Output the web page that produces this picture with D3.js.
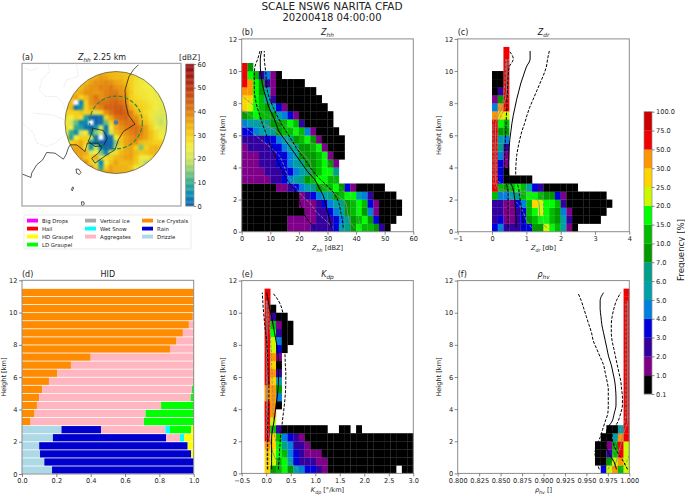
<!DOCTYPE html>
<html lang="en">
  <head>
    <meta charset="UTF-8" />
    <title>SCALE NSW6 NARITA CFAD</title>
    <style>
      body { margin: 0; background: #fff; }
      text { font-family: "DejaVu Sans", sans-serif; fill: #222; }
      .domain { display: none; }
      .tick line { stroke: #555; stroke-width: 0.7; }
      .tick text { font-size: 6.6px; fill: #222; }
    </style>
  </head>
  <body>
    <svg width="685" height="495"></svg>
    <script src="https://cdn.jsdelivr.net/npm/d3@7"></script>
    <script>
      // frequency levels of the CFAD colour bar
      const freqLevels = [0.1, 1, 2, 3, 4, 5, 6, 7, 10, 15, 20, 25, 30, 50, 75, 100];
      const freqColors = ["#000000", "#7f0088", "#3300a0", "#0000dd", "#0080dd", "#00a0aa", "#00a088",
        "#009900", "#00bb00", "#00ff00", "#ccf800", "#ffd500", "#ff9500", "#f00000", "#cc0000"];

      // reflectivity colour bar of the map
      const dbzStops = [0, 5, 10, 15, 20, 25, 30, 35, 40, 45, 50, 55, 60];
      const dbzColors = ["#0f5fb0", "#0a8cb0", "#35ab8c", "#86cc78", "#d0e45c", "#f2ec3c", "#f4d018",
        "#eeaa10", "#e08010", "#d05a10", "#bd3410", "#a81a10", "#8e0a10"];

      // CFAD rows, bottom (0-0.5 km) to top, each row: first bin, then frequency per bin
      const zhhCells = [
        [0, .5,.5,.5,.5,.5,.5,.5,.5, 1.5,1.5,1.5,1.5, 2.5,2.5,2.5,2.5, 3.5,5.5,6.5,8,17,12,12,8,2.5,.5],
        [0, .5,.5,.5,.5,.5,.5,.5,.5, 1.5,1.5,1.5,1.5,1.5, 2.5,2.5,2.5, 3.5,4.5,6.5,8,12,17,8,3.5,.5,.5,.5],
        [0, .5,.5,.5,.5,.5,.5,.5,.5,.5,.5,.5, 1.5,1.5, 2.5,2.5, 3.5,4.5,5.5,8,12,17,8,4.5,1.5,.5,.5,.5,.5],
        [0, .5,.5,.5,.5,.5,.5,.5,.5,.5,.5, 1.5,1.5,1.5, 2.5,3.5,4.5,5.5,6.5,8,12,17,12,3.5,1.5,.5,.5,.5,.5],
        [0, .5,.5,.5,.5,.5,.5,.5,.5,.5,.5, 1.5,2.5,3.5,4.5,5.5,6.5,8,12,17,17,5.5,4.5,2.5,.5,.5,.5,.5],
        [0, .5,.5,.5,.5,.5,.5, 1.5,1.5,2.5,3.5,4.5,5.5,6.5,8,12,12,17,8,3.5,1.5,.5,.5,.5,.5,.5],
        [0, 1.5,1.5,1.5,1.5,1.5, 2.5,2.5,3.5,4.5,5.5,6.5,8,12,17,17,12,12],
        [0, 1.5,1.5,1.5,1.5, 2.5,2.5,2.5,3.5,3.5,4.5,5.5,6.5,8,12,17,17,6.5],
        [0, 1.5,1.5,1.5, 2.5,2.5,2.5,3.5,3.5,4.5,5.5,6.5,8,8,12,17,8,1.5],
        [0, 1.5,1.5,1.5, 2.5,2.5,2.5,3.5,3.5,4.5,5.5,8,8,8,12,17,1.5,.5,.5],
        [0, 1.5,2.5,2.5,2.5,2.5,3.5,3.5,4.5,5.5,6.5,8,8,12,17,1.5,.5,.5,.5],
        [0, 2.5,2.5,2.5,2.5,3.5,3.5,4.5,5.5,6.5,8,12,17,8,1.5,.5,.5,.5,.5],
        [0, 3.5,3.5,4.5,5.5,5.5,6.5,8,12,12,17,12,4.5,1.5,.5,.5,.5,.5],
        [0, 4.5,5.5,5.5,6.5,6.5,8,8,12,17,12,2.5,.5,.5,.5,.5,.5],
        [0, 8,12,17,12,12,8,5.5,4.5,3.5,1.5,.5,.5,.5,.5,.5,.5],
        [0, 27,22,17,12,8,5.5,3.5,1.5,.5,.5,.5,.5,.5,.5,.5],
        [0, 27,27,17,12,5.5,2.5,.5,.5,.5,.5,.5,.5,.5,.5],
        [0, 40,40,17,8,5.5,1.5,.5,.5,.5,.5,.5,.5,.5],
        [0, 60,40,17,8,2.5,1.5,.5,.5,.5,.5,.5],
        [0, 60,17,12,2.5,4.5,1.5,.5],
        [0, 60,8],
      ];
      const zdrCells = [
        [6, 3.5,4.5,2.5,2.5,2.5,3.5,3.5,8,8,22,17,12,5.5,1.5,.5],
        [6, 2.5,3.5,1.5,1.5,2.5,3.5,8,12,17,17,12,8,5.5,2.5,.5,.5,.5,.5,.5],
        [6, 2.5,2.5,1.5,1.5,2.5,3.5,12,17,22,17,12,8,4.5,1.5,.5,.5,.5,.5,.5,.5],
        [6, 2.5,2.5,1.5,1.5,3.5,4.5,12,27,22,17,17,12,2.5,.5,.5,.5,.5,.5,.5,.5,.5],
        [6, 12,4.5,4.5,5.5,6.5,12,17,17,12,8,8,3.5,1.5,.5,.5,.5,.5,.5,.5,.5],
        [6, 60,12,8,12,17,12,5.5,3.5,2.5,.5,.5,.5,.5,.5,.5],
        [6, 60,3.5,.5,.5,.5,.5,.5],
        [6, 60,3.5,.5],
        [6, 60,3.5,1.5],
        [6, 60,4.5,1.5],
        [6, 60,6.5,2.5],
        [6, 60,5.5,4.5],
        [6, 60,8,8],
        [6, 60,17,12],
        [6, 40,27,22],
        [6, 4.5,40,60],
        [6, 1.5,8,60],
        [6, .5,2.5,60],
        [6, .5,.5,60],
        [6, .5,.5,60],
        [8, 60],
        [8, 60],
        [8, 60],
      ];
      const kdpCells = [
        [4, 27,8,12,17,8,5.5,4.5,3.5,3.5,2.5,1.5,.5,.5,.5,.5,.5,.5,.5,.5,.5,.5,.5,.5,null,.5,.5],
        [4, 27,22,12,17,5.5,3.5,2.5,2.5,2.5,1.5,1.5,.5,.5,.5,.5,.5,.5,.5,.5,.5,.5,.5,.5,.5,.5,.5],
        [4, 27,22,17,12,4.5,3.5,2.5,1.5,1.5,1.5,.5,.5,.5,.5,.5,.5,.5,.5,.5,.5,.5,.5,.5,.5,.5,.5],
        [4, 40,27,17,6.5,4.5,2.5,2.5,1.5,.5,.5,.5,.5,.5,.5,.5,.5,.5,.5,.5,.5,.5,.5,.5,.5,.5,.5],
        [4, 60,27,12,4.5,3.5,2.5,1.5,.5,.5,.5,.5,.5,.5,.5,.5,.5,.5,.5,.5,.5,.5,.5,.5,.5,.5,.5],
        [4, 60,12,2.5,.5,.5,.5,.5,.5,.5,.5,.5,null,null,.5,.5,null,.5],
        [4, 60,22],
        [4, 60,40],
        [4, 60,40,.5],
        [4, 40,40,4.5],
        [4, 40,40,8],
        [4, 60,27,5.5],
        [4, 60,40,2.5],
        [4, 60,27,.5],
        [4, 60,40,1.5],
        [4, 60,22,3.5,.5],
        [4, 60,22,4.5,.5,.5],
        [4, 60,17,2.5,.5,.5],
        [4, 60,12,1.5,.5,.5],
        [4, 60,2.5,.5,.5],
        [4, 60,.5],
        [4, 60],
        [4, 60],
      ];
      const rhoCells = [
        [25, 3.5,22,40,12,22],
        [24, .5,.5,8,22,40,22],
        [24, .5,.5,2.5,12,60,22],
        [24, .5,.5,1.5,8,60,22],
        [25, .5,.5,5.5,40,60],
        [26, .5,.5,5.5,60],
        [29, 60],[29, 60],[29, 60],[29, 60],[29, 60],[29, 60],[29, 60],[29, 60],[29, 60],[29, 60],
        [29, 60],[29, 60],[29, 60],[29, 60],[29, 60],[29, 60],[29, 60],
      ];

      // profile curves, value at 0.25, 0.75, ... km
      const zhhMedian = [31.5,30.7,30,29.3,28.5,27,25.5,23,21,19,17,15,13,12,10.8,9.5,8.7,7.8,7.2,6.8,6.5,6.5,7];
      const zhhLow = [25.6,23,21.5,20.5,19.5,17.8,15.8,14.3,13,11.7,10.3,9.2,8.2,7.2,6.3,5.4,4.8,4.4,4.4,4.4,4.6,5.6,6.4];
      const zhhHigh = [35.5,35.2,34.6,34,32.8,30.5,27.5,25,23,21,19,17.3,15.5,13.8,12.3,11,9.8,9,8.6,8.5,8.2,7.9,7.9];
      const zhhGray = [39.5,37.5,37,36.5,33.5,29,25,24.5,24,22,19,15.5,12,7.5,3,-2];
      const zhhGrayLow = [32,29,26,24,21,19,17,15.5,14.5,13,10,6.5,3,-1];
      const zhhGrayHigh = [41.5,41,40.5,40,37,34.5,32.5,31.5,30.5,29,26.5,23,19,14,9,5,1.5,-2];

      const zdrMedian = [.7,.7,.69,.67,.65,.6,.5,.48,.48,.49,.5,.52,.55,.58,.62,.67,.72,.78,.84,.92,1,1.11,1.11];
      const zdrLow = [.47,.47,.47,.47,.47,.45,.38,.36,.36,.37,.38,.39,.4,.41,.42,.43,.44,.45,.46,.47,.5,.62,.5];
      const zdrHigh = [.93,.9,.87,.84,.8,.77,.7,.69,.7,.72,.76,.81,.87,.95,1.02,1.1,1.2,1.3,1.4,1.5,1.58,1.62,1.67];
      const zdrGray = [1.6,1.4,1.38,1.37,1.1,.16,.1,.09,.09,.09,.09,.1,.1,.11,.18,.3,.39,.42,.43,.43,.43,.43];
      const zdrGrayLow = [1.15,1,.9,.75,.5,.09,.04,.03,.03,.03,.03,.03,.03,.03,.1,.22,.33,.35,.37,.38,.39,.4];
      const zdrGrayHigh = [1.85,1.55,1.5,1.5,1.45,.6,.14,.14,.14,.14,.15,.16,.17,.18,.27,.4,.46,.46,.46,.47,.47,.48];

      const kdpMedian = [.11,.11,.11,.11,.11,.13,.16,.18,.2,.225,.24,.25,.25,.25,.245,.23,.2,.17,.14,.11,.07,.04,.01];
      const kdpLow = [.03,.03,.03,.03,.03,.03,.035,.04,.05,.055,.055,.05,.04,.035,.03,.02,.01,-.01,-.03,-.045,-.06,-.07,-.08];
      const kdpHigh = [.25,.26,.27,.28,.29,.31,.33,.35,.37,.385,.395,.4,.4,.39,.385,.38,.38,.37,.365,.35,.32,.25,.13];
      const kdpGray = [.35,.22,.14,.1,.06,.03,.03,.02,.02,.02,.02,.02,.02,.02,.02,.02,.02,.02,.02,.02,.01,.01];
      const kdpGrayLow = [.02,.01,.01,.01,.01,.01,.01,.01,.01,.01,.01,.01,.01,.01,.01,0,0,0,0,0,0,0];
      const kdpGrayHigh = [.65,.45,.3,.22,.18,.15,.15,.14,.14,.14,.13,.12,.12,.11,.11,.1,.09,.08,.06,.05,.04,.03];

      const rhoMedian = [.985,.982,.976,.973,.973,.974,.98,.9825,.9845,.9845,.984,.983,.981,.979,.976,.974,.972,.97,.968,.967,.966,.966,.97];
      const rhoLow = [.965,.962,.96,.962,.966,.969,.972,.975,.9755,.9755,.9755,.974,.972,.97,.966,.962,.958,.956,.953,.95,.947,.944,.94];
      const rhoHigh = [.998,.993,.987,.982,.98,.982,.987,.99,.992,.992,.991,.99,.988,.986,.984,.982,.98,.979,.979,.98,.982,.985,.99];
      const rhoGray = [.98,.985,.987,.99,.992,.995,.998,.998,.998,.998,.998,.998,.998,.998,.998,.998,.998,.998,.998,.998,.998,.998];
      const rhoGrayLow = [.975,.98,.982,.984,.987,.99,.995,.996,.996,.996,.996,.996,.996,.996,.996,.996,.996,.996,.996,.996,.996,.996];
      const rhoGrayHigh = [.99,.997,1,1,1,1,1,1,1,1,1,1,1,1,1,1,1,1,1,1,1,1];

      // HID shares per 0.5 km layer, bottom to top
      const hidNames = ["Big Drops", "Hail", "HD Graupel", "LD Graupel", "Vertical Ice", "Wet Snow", "Aggregates", "Ice Crystals", "Rain", "Drizzle"];
      const hidColors = ["#ff00ff", "#ff0000", "#ffff00", "#00ff00", "#a9a9a9", "#00ffff", "#ffb6c1", "#ff8c00", "#0000cd", "#add8e6"];
      const hidDrizzle = [.175,.13,.105,.1,.18,.23,0,0,0,0,0,0,0,0,0,0,0,0,0,0,0,0,0];
      const hidRain = [.825,.87,.88,.865,.66,.23,0,0,0,0,0,0,0,0,0,0,0,0,0,0,0,0,0];
      const hidCrystals = [0,0,0,0,0,0,.05,.073,.087,.1,.118,.157,.205,.285,.4,.862,.9,.937,.972,.995,1,1,1];
      const hidAggregates = [0,0,0,0,.08,.375,.66,.647,.723,.883,.872,.841,.793,.715,.6,.138,.1,.063,.028,.005,0,0,0];
      const hidWetSnow = [0,0,0,0,.025,.027,0,0,0,0,0,0,0,0,0,0,0,0,0,0,0,0,0];
      const hidLdGraupel = [0,0,0,0,0,.123,.29,.28,.19,.017,.01,.002,.002,0,0,0,0,0,0,0,0,0,0];
      const hidHdGraupel = [0,0,.015,.035,.055,.015,0,0,0,0,0,0,0,0,0,0,0,0,0,0,0,0,0];

      // Zhh at 2.25 km on a 15 km grid round the radar, north to south (null = no echo)
      const mapGridKm = [
        [33,33,33,33,33,33,34,34,34,33,33,32,32,30,28,27,26,25,25,25,25],
        [32,32,32,32,32,33,35,37,36,34,33,33,32,30,28,26,25,25,25,25,25],
        [32,32,32,32,33,36,38,38,39,38,36,35,33,30,27,26,25,24,24,24,24],
        [32,32,32,33,36,38,38,40,39,41,38,37,35,30,27,26,25,25,24,23,23],
        [33,33,33,35,38,38,37,38,40,41,41,38,36,31,27,26,26,25,24,23,23],
        [33,33,36,30,33,38,42,38,40,42,42,40,38,30,28,27,26,25,24,24,23],
        [33,33,null,4,30,38,40,42,42,43,44,42,40,32,30,29,28,26,25,24,23],
        [33,33,2,6,30,36,38,40,44,44,45,45,42,35,31,30,29,27,25,23,23],
        [30,30,30,32,30,32,20,30,38,42,45,46,44,40,33,31,28,26,23,22,22],
        [28,25,30,28,8,1,0,2,30,36,42,43,44,40,38,33,30,26,22,20,22],
        [26,20,13,4,4,null,0,2,13,30,38,40,42,42,40,35,32,28,22,19,22],
        [28,25,10,8,2,0,6,20,2,25,35,38,40,42,42,40,36,30,24,22,22],
        [25,10,5,20,25,3,15,20,3,20,33,36,38,40,42,40,36,32,28,24,24],
        [30,8,25,30,30,20,2,null,1,2,25,32,36,38,40,38,36,32,28,25,25],
        [32,30,32,35,30,8,2,0,0,1,15,32,36,38,38,33,32,31,30,30,30],
        [32,34,36,36,25,6,20,4,0,1,18,30,35,36,30,14,30,33,34,32,32],
        [32,34,36,36,35,20,25,14,4,20,28,33,35,36,33,31,32,33,33,32,32],
        [34,6,30,36,32,30,35,20,28,30,33,34,36,36,32,26,24,28,32,32,32],
        [36,36,36,36,38,30,20,4,25,32,36,33,33,34,31,22,18,26,30,32,32],
        [36,36,36,36,38,38,30,8,30,36,34,34,34,32,24,28,30,32,32,32,32],
        [36,36,36,36,36,36,36,36,36,36,34,34,34,34,34,32,32,32,32,32,32],
      ];
      // map outlines in km east / north of the radar
      const coastMain = [[67,173],[52,158],[39,138],[27,98],[29,58],[37,23],[57,-5],[22,-27],[7,-52],[-3,-82],[-28,-97],[-63,-122],[-73,-107],[-53,-92],[-43,-77],[-53,-62],[-86,-62],[-93,-87],[-118,-67],[-138,-67],[-143,-77],[-150,-97],[-158,-110],[-183,-92],[-208,-90],[-220,-112],[-238,-127],[-253,-152],[-255,-165],[-283,-154]];
      const coastBay = [[-70,-17],[-38,-24],[-26,-47],[-38,-70],[-63,-72],[-83,-57],[-73,-32],[-70,-17]];
      const coastIslands = [
        [[-120,-140],[-112,-140],[-105,-150],[-110,-156],[-118,-152],[-120,-140]],
        [[-130,-193],[-127,-196],[-131,-205],[-134,-202],[-130,-193]],
        [[-104,-238],[-97,-238],[-95,-245],[-102,-250],[-104,-238]],
      ];
      const prefLines = [
        [[-273,163],[-258,156],[-243,160],[-233,168]],
        [[-203,173],[-200,153],[-223,128],[-230,98],[-213,78],[-178,78],[-158,58],[-153,38]],
        [[-248,28],[-193,23],[-153,8]],
        [[-278,-4],[-248,-32],[-238,-62],[-208,-72],[-183,-62],[-148,-32]],
        [[-118,173],[-113,138],[-148,128],[-158,103]],
      ];

      const svg = d3.select("svg");
      const freqColor = d3.scaleThreshold().domain(freqLevels.slice(1, -1)).range(freqColors);
      const dbzColor = d3.scaleLinear().domain(dbzStops).range(dbzColors);
      const heightTicks = d3.range(0, 13, 2);

      // text with a subscript, parts are [text, italic, sub]
      function label(parent, x, y, parts, size, anchor, rotate) {
        const t = parent.append("text").attr("font-size", size).attr("text-anchor", anchor || "middle");
        t.attr("transform", "translate(" + x + "," + y + ")" + (rotate ? " rotate(-90)" : ""));
        parts.forEach((p, i) => {
          const s = t.append("tspan").text(p[0]);
          if (p[1]) s.attr("font-style", "italic");
          if (p[2]) s.attr("font-size", size * 0.72).attr("dy", size * 0.25);
          else if (i > 0) s.attr("dy", -size * 0.25);
        });
        return t;
      }

      function frame(g, w, h, color, width) {
        g.append("rect").attr("width", w).attr("height", h).attr("fill", "none")
          .attr("stroke", color || "#8c8c8c").attr("stroke-width", width || 1);
      }

      function axes(g, x, y, w, h, xTicks, fmt) {
        g.append("g").attr("transform", "translate(0," + h + ")")
          .call(d3.axisBottom(x).tickValues(xTicks).tickFormat(fmt).tickSize(3).tickPadding(1.8));
        g.append("g").call(d3.axisLeft(y).tickValues(heightTicks).tickSize(3).tickPadding(1.5));
      }

      function cfadPanel(o) {
        const w = 171.6, h = 192.8;
        const g = svg.append("g").attr("transform", "translate(" + o.left + "," + o.top + ")");
        const x = d3.scaleLinear().domain(o.domain).range([0, w]);
        const y = d3.scaleLinear().domain([0, 12]).range([h, 0]);
        const binW = (o.domain[1] - o.domain[0]) / 30;
        const clipId = "clip" + o.tag;
        g.append("clipPath").attr("id", clipId).append("rect").attr("width", w).attr("height", h);

        o.cells.forEach((row, r) => {
          row.slice(1).forEach((v, i) => {
            if (v === null) return;
            const x0 = o.domain[0] + (row[0] + i) * binW;
            g.append("rect")
              .attr("x", x(x0)).attr("width", x(x0 + binW) - x(x0) + 0.2)
              .attr("y", y((r + 1) * 0.5)).attr("height", y(r * 0.5) - y((r + 1) * 0.5) + 0.2)
              .attr("fill", freqColor(v));
          });
        });

        const line = d3.line().x((d) => x(d)).y((d, i) => y(0.25 + i * 0.5)).curve(d3.curveMonotoneY);
        const curves = g.append("g").attr("clip-path", "url(#" + clipId + ")").attr("fill", "none");
        curves.append("path").attr("d", line(o.gray)).attr("stroke", "#8a8a8a").attr("stroke-width", 0.9);
        curves.append("path").attr("d", line(o.grayLow)).attr("stroke", "#8a8a8a").attr("stroke-width", 0.9).attr("stroke-dasharray", "3 1.5");
        curves.append("path").attr("d", line(o.grayHigh)).attr("stroke", "#8a8a8a").attr("stroke-width", 0.9).attr("stroke-dasharray", "3 1.5");
        curves.append("path").attr("d", line(o.median)).attr("stroke", "#000").attr("stroke-width", 1);
        curves.append("path").attr("d", line(o.low)).attr("stroke", "#000").attr("stroke-width", 1).attr("stroke-dasharray", "3 1.5");
        curves.append("path").attr("d", line(o.high)).attr("stroke", "#000").attr("stroke-width", 1).attr("stroke-dasharray", "3 1.5");

        frame(g, w, h);
        axes(g, x, y, w, h, o.ticks, o.fmt);
        label(g, 0, -3.5, [["(" + o.tag + ")"]], 8, "start");
        label(g, w / 2, -3.5, o.title, 8);
        label(g, w / 2, h + 18.5, o.xlabel, 6.6);
        label(g, -17, h / 2, [["Height [km]"]], 6.6, "middle", true);
      }

      const subLabel = (sym, sub, rest) => {
        const parts = [[sym, true], [sub, true, true]];
        if (rest) parts.push([rest]);
        return parts;
      };

      cfadPanel({ tag: "b", left: 241.7, top: 38.9, domain: [0, 60], ticks: d3.range(0, 61, 10), fmt: d3.format("d"),
        cells: zhhCells, median: zhhMedian, low: zhhLow, high: zhhHigh, gray: zhhGray, grayLow: zhhGrayLow, grayHigh: zhhGrayHigh,
        title: subLabel("Z", "hh"), xlabel: subLabel("Z", "hh", " [dBZ]") });
      cfadPanel({ tag: "c", left: 457.7, top: 38.9, domain: [-1, 4], ticks: d3.range(-1, 5), fmt: (d) => (d < 0 ? "\u2212" + -d : d),
        cells: zdrCells, median: zdrMedian, low: zdrLow, high: zdrHigh, gray: zdrGray, grayLow: zdrGrayLow, grayHigh: zdrGrayHigh,
        title: subLabel("Z", "dr"), xlabel: subLabel("Z", "dr", " [db]") });
      cfadPanel({ tag: "e", left: 241.7, top: 280.6, domain: [-0.5, 3], ticks: d3.range(-0.5, 3.1, 0.5), fmt: (d) => (d < 0 ? "\u2212" + d3.format(".1f")(-d) : d3.format(".1f")(d)),
        cells: kdpCells, median: kdpMedian, low: kdpLow, high: kdpHigh, gray: kdpGray, grayLow: kdpGrayLow, grayHigh: kdpGrayHigh,
        title: subLabel("K", "dp"), xlabel: subLabel("K", "dp", " [\u00b0/km]") });
      cfadPanel({ tag: "f", left: 457.7, top: 280.6, domain: [0.8, 1], ticks: d3.range(0, 9).map((i) => 0.8 + i * 0.025), fmt: d3.format(".3f"),
        cells: rhoCells, median: rhoMedian, low: rhoLow, high: rhoHigh, gray: rhoGray, grayLow: rhoGrayLow, grayHigh: rhoGrayHigh,
        title: subLabel("\u03c1", "hv"), xlabel: subLabel("\u03c1", "hv", " []") });

      // HID stacked bars
      (function () {
        const w = 171.7, h = 193.7;
        const g = svg.append("g").attr("transform", "translate(22,280.3)");
        const x = d3.scaleLinear().domain([0, 1]).range([0, w]);
        const y = d3.scaleLinear().domain([0, 12]).range([h, 0]);
        const stackOrder = [
          [hidDrizzle, "Drizzle"], [hidRain, "Rain"], [hidCrystals, "Ice Crystals"], [hidAggregates, "Aggregates"],
          [hidWetSnow, "Wet Snow"], [hidLdGraupel, "LD Graupel"], [hidHdGraupel, "HD Graupel"],
        ];
        hidRain.forEach((_, r) => {
          let sum = 0;
          stackOrder.forEach(([vals, name]) => {
            const v = vals[r];
            if (v <= 0) return;
            g.append("rect")
              .attr("x", x(sum)).attr("width", x(sum + v) - x(sum))
              .attr("y", y(r * 0.5 + 0.47)).attr("height", y(r * 0.5 + 0.02) - y(r * 0.5 + 0.47))
              .attr("fill", hidColors[hidNames.indexOf(name)]);
            sum += v;
          });
        });
        frame(g, w, h);
        axes(g, x, y, w, h, d3.range(0, 1.01, 0.2), d3.format(".1f"));
        label(g, 0, -3.5, [["(d)"]], 8, "start");
        label(g, w / 2, -3.5, [["HID"]], 8);
        label(g, -16, h / 2, [["Height [km]"]], 6.6, "middle", true);
      })();

      // radar map
      (function () {
        const g = svg.append("g");
        const left = 22, top = 63.4, right = 181, bottom = 206;
        const mapX = d3.scaleLinear().domain([-153, 153]).range([65, 167]);
        const mapY = d3.scaleLinear().domain([-153, 153]).range([173.5, 71.5]);
        const defs = g.append("defs");
        defs.append("clipPath").attr("id", "rangeClip").append("circle")
          .attr("cx", mapX(0)).attr("cy", mapY(0)).attr("r", mapX(153) - mapX(0));
        defs.append("clipPath").attr("id", "frameClip").append("rect")
          .attr("x", left).attr("y", top).attr("width", right - left).attr("height", bottom - top);
        defs.append("filter").attr("id", "soft").attr("color-interpolation-filters", "sRGB")
          .append("feGaussianBlur").attr("stdDeviation", 0.9);

        const disc = g.append("g").attr("clip-path", "url(#rangeClip)").append("g").attr("filter", "url(#soft)");
        mapGridKm.forEach((row, j) => {
          row.forEach((v, i) => {
            const e = -157.5 + i * 15, n = 157.5 - j * 15;
            disc.append("rect")
              .attr("x", mapX(e)).attr("y", mapY(n))
              .attr("width", mapX(e + 15) - mapX(e) + 0.3).attr("height", mapY(n - 15) - mapY(n) + 0.3)
              .attr("fill", v === null ? "#fff" : dbzColor(v));
          });
        });

        const path = d3.line().x((d) => mapX(d[0])).y((d) => mapY(d[1]));
        const outlines = g.append("g").attr("clip-path", "url(#frameClip)").attr("fill", "none");
        prefLines.forEach((l) => {
          outlines.append("path").attr("d", path(l)).attr("stroke", "#cfcfcf").attr("stroke-width", 0.5).attr("stroke-dasharray", "1.5 1");
        });
        [coastMain, coastBay].concat(coastIslands).forEach((l) => {
          outlines.append("path").attr("d", path(l)).attr("stroke", "#111").attr("stroke-width", 0.7);
        });

        g.append("circle").attr("cx", mapX(0)).attr("cy", mapY(0)).attr("r", mapX(153) - mapX(0))
          .attr("fill", "none").attr("stroke", "#333").attr("stroke-width", 0.6);
        g.append("circle").attr("cx", mapX(0)).attr("cy", mapY(0)).attr("r", mapX(79) - mapX(0))
          .attr("fill", "none").attr("stroke", "#1f8a3c").attr("stroke-width", 1.1).attr("stroke-dasharray", "4 2");
        g.append("circle").attr("cx", mapX(0)).attr("cy", mapY(0)).attr("r", 2.2).attr("fill", "#3b7dbd");

        g.append("rect").attr("x", left).attr("y", top).attr("width", right - left).attr("height", bottom - top)
          .attr("fill", "none").attr("stroke", "#a8a8a8").attr("stroke-width", 1.3);
        label(g, left, 59.5, [["(a)"]], 8, "start");
        label(g, 102, 59.5, [["Z", true], ["hh", true, true], [" 2.25 km"]], 8);
        label(g, 179, 59.5, [["[dBZ]"]], 7.6, "start");

        // colour bar
        const barY = d3.scaleLinear().domain([0, 60]).range([206, 64]);
        const bar = g.append("g");
        d3.range(0, 60, 0.5).forEach((v) => {
          bar.append("rect").attr("x", 185.7).attr("width", 8.3)
            .attr("y", barY(v + 0.5)).attr("height", barY(v) - barY(v + 0.5) + 0.2)
            .attr("fill", dbzColor(v + 0.25));
        });
        bar.append("rect").attr("x", 185.7).attr("y", 64).attr("width", 8.3).attr("height", 142)
          .attr("fill", "none").attr("stroke", "#8c8c8c").attr("stroke-width", 0.7);
        g.append("g").attr("transform", "translate(194,0)")
          .call(d3.axisRight(barY).tickValues(d3.range(0, 61, 10)).tickSize(2).tickPadding(1.5));

        // legend
        const legend = g.append("g");
        legend.append("rect").attr("x", 24).attr("y", 215).attr("width", 167).attr("height", 34)
          .attr("fill", "#fff").attr("stroke", "#e4e4e4").attr("stroke-width", 0.7).attr("rx", 1);
        const legendCol = [27, 85, 142], legendRows = [4, 3, 3];
        let k = 0;
        legendRows.forEach((n, c) => {
          d3.range(n).forEach((r) => {
            legend.append("rect").attr("x", legendCol[c]).attr("y", 218.7 + r * 8).attr("width", 11).attr("height", 3.8)
              .attr("fill", hidColors[k]);
            label(legend, legendCol[c] + 15, 222.6 + r * 8, [[hidNames[k]]], 5.4, "start");
            k++;
          });
        });
      })();

      // frequency colour bar
      (function () {
        const g = svg.append("g");
        const barY = d3.scalePoint().domain(freqLevels).range([394, 111.7]);
        freqColors.forEach((c, i) => {
          g.append("rect").attr("x", 644).attr("width", 8)
            .attr("y", barY(freqLevels[i + 1])).attr("height", barY(freqLevels[i]) - barY(freqLevels[i + 1]) + 0.2)
            .attr("fill", c);
        });
        g.append("rect").attr("x", 644).attr("y", 111.7).attr("width", 8).attr("height", 282.3)
          .attr("fill", "none").attr("stroke", "#8c8c8c").attr("stroke-width", 0.7);
        g.append("g").attr("transform", "translate(652,0)")
          .call(d3.axisRight(barY).tickFormat(d3.format(".1f")).tickSize(2.5).tickPadding(1.5));
        label(g, 684, 250, [["Frequency [%]"]], 8.6, "middle", true);
      })();

      label(svg, 332, 9.5, [["SCALE NSW6 NARITA CFAD"]], 10.5);
      label(svg, 332, 21, [["20200418 04:00:00"]], 10);
    </script>
  </body>
</html>
